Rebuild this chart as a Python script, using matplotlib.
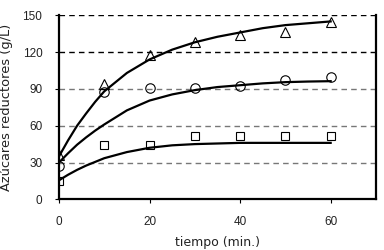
import matplotlib
matplotlib.use("Agg")
import matplotlib.pyplot as plt

# Measured points (time in min, reducing sugars in g/L)
t_points = [0, 10, 20, 30, 40, 50, 60]
tri_vals = [36.5, 94, 117.5, 128, 134, 136.5, 144.5]
circ_vals = [27, 87.5, 90.5, 90.5, 92, 97, 99.5]
sq_vals = [15, 44, 44.5, 51.8, 51.8, 51.8, 51.8]

# Fitted curves
t_curve = [0, 2, 4, 6, 8, 10, 15, 20, 25, 30, 35, 40, 45, 50, 55, 60]
tri_curve = [35, 48, 60, 70, 79.5, 88, 103, 114, 122, 128, 132.5, 136, 139.5, 142, 143.5, 145]
circ_curve = [30, 37.5, 44.5, 50.5, 56, 61, 72.5, 80.5, 85.5, 89, 91.5, 93, 94.5, 95.5, 96, 96.3]
sq_curve = [15.5, 20, 24, 27.5, 30.5, 33.5, 38.5, 42, 44, 45, 45.5, 46, 46, 46, 46, 46]

x_ticks = [0, 20, 40, 60]
y_ticks = [0, 30, 60, 90, 120, 150]

fig = plt.figure(figsize=(3.84, 2.5), dpi=100)
ax = fig.add_axes([0.1536, 0.2028, 0.8254, 0.736])

# Dashed horizontal grid lines (upper ones darker)
for v in y_ticks[1:]:
    col = "black" if v >= 120 else "#777777"
    ax.axhline(v, color=col, lw=1.0, ls=(0, (4, 3)), zorder=1)

# Curves
for vals in [tri_curve, circ_curve, sq_curve]:
    ax.plot(t_curve, vals, color="black", lw=1.6, zorder=2)

# Markers
ax.plot(t_points, tri_vals, ls="none", marker="^", ms=7.5, mfc="none", mec="black", mew=0.8, zorder=3)
ax.plot(t_points, circ_vals, ls="none", marker="o", ms=6.8, mfc="none", mec="black", mew=0.8, zorder=3)
ax.plot(t_points, sq_vals, ls="none", marker="s", ms=5.5, mfc="none", mec="black", mew=0.8, zorder=3)

ax.set_xlim(0, 70)
ax.set_ylim(0, 150)
ax.set_xticks(x_ticks)
ax.set_yticks(y_ticks)

ax.spines["top"].set_visible(False)
for s in ["left", "bottom", "right"]:
    ax.spines[s].set_linewidth(1.6)
ax.spines["right"].set_bounds(0, 150)

ax.tick_params(axis="both", direction="out", length=3, width=0.8, labelsize=8.5)
ax.tick_params(axis="y", pad=9)
ax.tick_params(axis="x", pad=9)
for lab in ax.get_xticklabels() + ax.get_yticklabels():
    lab.set_family("Liberation Sans")
    lab.set_color("#222222")

ax.set_xlabel("tiempo (min.)", family="DejaVu Sans", fontsize=9, color="#222222", labelpad=6)
ax.set_ylabel("Azúcares reductores (g/L)", family="DejaVu Sans", fontsize=9.4, color="#222222", labelpad=7)

fig.savefig("out.png", dpi=100)
